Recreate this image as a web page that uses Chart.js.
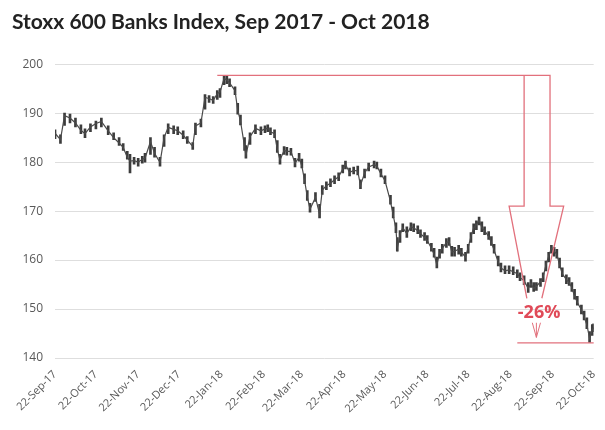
<!DOCTYPE html>
<html>
<head>
<meta charset="utf-8">
<script src="https://cdn.jsdelivr.net/npm/chart.js@4"></script>
<style>
  body { margin: 0; background: #fff; }
  #wrap { width: 605px; height: 430px; }
</style>
</head>
<body>
<div id="wrap"><canvas id="myChart" width="605" height="430"></canvas></div>
<script>
// dias desde el 22-Sep-17 y valores (minimo, maximo, cierre)
const days = [0,4,7,11,15,19,22,26,30,34,39,43,47,50,53,55,58,61,64,66,70,73,77,80,83,87,90,94,97,101,
  103,107,110,113,116,119,121,124,126,128,132,134,136,139,140,143,147,151,154,156,158,161,163,165,168,170,173,176,179,181,
  183,185,187,191,194,196,199,202,205,208,211,213,216,219,222,224,227,230,234,236,239,242,246,248,250,251,253,255,258,261,
  263,266,268,271,273,276,278,280,282,284,287,289,291,293,296,298,301,303,305,307,309,311,313,315,318,320,322,325,327,330,
  333,336,339,341,344,347,349,351,353,356,358,360,362,364,366,368,370,372,375,377,379,381,383,386,388,390,392,394,395];
const lows = [184.8,183.8,187.5,188.0,187.2,185.8,185.0,186.2,186.8,187.2,185.6,184.6,183.4,182.4,180.6,177.8,179.6,179.2,179.8,180.0,181.6,181.0,179.2,183.2,185.8,185.8,185.6,184.8,183.8,182.6,
  185.6,187.2,190.8,192.2,192.0,192.8,193.2,195.8,196.0,195.4,193.8,189.8,187.6,182.4,180.8,183.6,185.8,185.6,186.0,186.2,185.6,185.0,182.0,179.6,181.6,181.4,181.4,179.0,180.2,178.8,
  175.6,172.2,169.8,172.0,168.6,173.4,174.4,175.0,175.6,176.2,177.8,178.6,177.2,177.6,177.4,174.6,176.8,178.2,178.8,178.6,177.0,175.6,171.4,168.6,165.6,161.8,163.6,165.8,164.6,166.0,
  165.8,165.4,164.6,164.0,163.4,161.8,160.6,158.4,160.4,161.4,162.6,163.0,160.8,160.8,161.2,160.8,159.8,161.4,163.6,165.4,166.2,167.2,165.8,165.2,164.2,163.0,161.4,158.8,157.6,157.2,
  157.2,157.0,156.4,155.8,155.0,153.4,154.4,153.6,153.8,154.6,155.6,157.8,159.6,161.4,160.8,160.4,158.4,156.6,155.2,154.8,153.6,152.0,150.8,149.0,147.8,146.0,143.2,144.6,145.4];
const highs = [186.6,185.6,190.0,189.8,189.0,187.6,186.8,187.8,188.4,189.0,187.4,186.0,185.0,183.8,182.2,181.6,181.0,180.8,181.2,181.8,185.0,183.0,181.0,185.6,187.8,187.4,187.2,186.4,185.2,184.0,
  188.0,188.8,193.8,193.6,193.4,194.6,195.0,197.7,197.6,197.0,195.4,192.0,189.6,185.0,183.4,186.0,187.6,187.2,187.4,187.6,187.0,186.6,184.4,181.6,183.2,183.0,182.8,180.8,181.8,180.6,
  177.6,174.2,171.6,173.8,171.4,175.2,176.0,176.6,177.2,177.8,179.4,180.2,178.8,179.0,179.2,176.4,178.6,179.8,180.2,180.0,178.6,177.2,173.2,170.8,167.6,164.6,166.0,167.4,166.8,167.6,
  167.4,167.0,166.2,165.6,165.0,163.4,162.4,160.6,162.2,163.2,164.4,164.6,162.8,162.6,163.0,162.4,161.6,163.2,165.6,167.4,168.0,168.8,167.8,166.8,165.8,164.8,163.2,160.8,159.4,158.8,
  158.8,158.6,158.0,157.4,156.8,155.4,156.0,155.4,155.4,156.2,157.4,159.8,161.6,163.0,162.6,162.2,160.4,158.4,157.0,156.4,155.4,154.0,152.6,150.8,149.6,148.2,145.4,146.8,147.0];
const closes = [185.9,184.6,189.5,189.0,188.0,186.5,185.8,187.2,187.9,188.3,186.4,185.0,183.9,183.0,181.0,180.2,180.3,180.0,180.6,180.8,184.2,181.8,179.9,185.0,187.1,186.7,186.4,185.5,184.5,183.2,
  187.4,188.0,193.2,193.0,192.6,194.0,194.3,197.1,196.8,196.2,194.6,190.6,188.4,183.2,181.4,185.2,186.9,186.4,186.8,186.9,186.2,185.8,182.6,180.4,182.4,182.2,182.2,179.8,181.0,179.2,
  176.3,172.9,170.4,172.8,169.4,174.3,175.2,175.7,176.4,177.0,178.6,179.5,177.9,178.3,178.2,175.2,177.8,179.0,179.5,179.2,177.6,176.2,172.0,169.2,166.4,162.4,165.2,166.6,165.4,166.8,
  166.6,166.0,165.4,164.6,164.0,162.4,161.2,159.0,161.4,162.4,163.6,163.8,161.6,161.8,162.2,161.6,160.6,162.6,164.8,166.6,167.2,168.2,166.6,166.0,164.8,163.6,162.0,159.6,158.4,157.8,
  158.0,157.6,157.2,156.4,155.8,154.2,155.2,154.2,154.6,155.6,156.6,159.0,160.8,162.4,161.8,161.2,159.0,157.2,156.0,155.4,154.4,152.6,151.4,149.8,148.4,146.8,144.0,145.8,146.2];

// marcas del eje X (el dia 22 de cada mes)
const tickDays = [0,30,61,91,122,153,181,212,242,273,303,334,365,395];
const tickLabels = ["22-Sep-17","22-Oct-17","22-Nov-17","22-Dec-17","22-Jan-18","22-Feb-18","22-Mar-18",
  "22-Apr-18","22-May-18","22-Jun-18","22-Jul-18","22-Aug-18","22-Sep-18","22-Oct-18"];

// anotacion en rojo: maximo, minimo y caida
const peakValue = 197.7;
const lowValue = 143.1;
const dropLabel = "-26%";

const red = "#e2707c";

const annotation = {
  id: "annotation",
  afterDatasetsDraw(chart) {
    const x = chart.scales.x, y = chart.scales.y, c = chart.ctx;
    const px = d => x.getPixelForValue(d), py = v => y.getPixelForValue(v);
    c.save();
    c.strokeStyle = red;
    c.lineWidth = 1.3;
    // flecha hueca desde el maximo
    c.beginPath();
    c.moveTo(px(119), py(peakValue));
    c.lineTo(px(363), py(peakValue));
    c.lineTo(px(363), py(171));
    c.lineTo(px(373), py(171));
    c.lineTo(px(357), py(152.2));
    c.moveTo(px(346), py(152.2));
    c.lineTo(px(333), py(171));
    c.lineTo(px(344), py(171));
    c.lineTo(px(344), py(peakValue));
    c.stroke();
    // linea del minimo
    c.beginPath();
    c.moveTo(px(339), py(lowValue));
    c.lineTo(px(395), py(lowValue));
    c.stroke();
    // pequena v
    c.lineWidth = 1;
    c.beginPath();
    c.moveTo(px(350), py(147.2));
    c.lineTo(px(353), py(144.2));
    c.lineTo(px(356), py(147.2));
    c.moveTo(px(353), py(147.2));
    c.lineTo(px(353), py(144.2));
    c.stroke();
    // texto
    c.fillStyle = "#e04a58";
    c.font = "bold 18px 'Open Sans', sans-serif";
    c.textAlign = "center";
    c.textBaseline = "middle";
    c.fillText(dropLabel, px(355), py(149.3));
    c.restore();
  }
};

const canva = document.getElementById("myChart").getContext("2d");

const myChart = new Chart(canva, {
  type: "bar",
  data: {
    datasets: [
      {
        type: "line",
        data: days.map((d, i) => ({ x: d, y: closes[i] })),
        borderColor: "#4a4a4a",
        borderWidth: 1.2,
        pointRadius: 0,
        tension: 0
      },
      {
        type: "bar",
        data: days.map((d, i) => ({ x: d, y: [lows[i], highs[i]] })),
        backgroundColor: "#3c3c3c",
        barThickness: 2
      }
    ]
  },
  options: {
    responsive: false,
    animation: false,
    layout: { padding: { left: 12, right: 8, top: 0, bottom: 0 } },
    plugins: {
      legend: { display: false },
      tooltip: { enabled: false },
      title: {
        display: true,
        text: "Stoxx 600 Banks Index, Sep 2017 - Oct 2018",
        align: "start",
        color: "#222",
        font: { family: "Lato", size: 21, weight: "bold" },
        padding: { top: 10, bottom: 29 }
      }
    },
    scales: {
      x: {
        type: "linear",
        min: 0,
        max: 395,
        offset: false,
        afterBuildTicks: s => { s.ticks = tickDays.map(v => ({ value: v })); },
        afterFit: s => { s.height = 72; },
        grid: { display: false },
        border: { display: false },
        ticks: {
          autoSkip: false,
          minRotation: 45,
          maxRotation: 45,
          padding: 2,
          color: "#595959",
          font: { family: "Open Sans", size: 11 },
          callback: v => tickLabels[tickDays.indexOf(v)]
        }
      },
      y: {
        min: 140,
        max: 200,
        afterFit: s => { s.width = 43; },
        grid: { color: "#dedede", lineWidth: 1, drawTicks: false },
        border: { display: false },
        ticks: {
          stepSize: 10,
          padding: 12,
          color: "#595959",
          font: { family: "Open Sans", size: 12 }
        }
      }
    }
  },
  plugins: [annotation]
});
</script>
</body>
</html>
